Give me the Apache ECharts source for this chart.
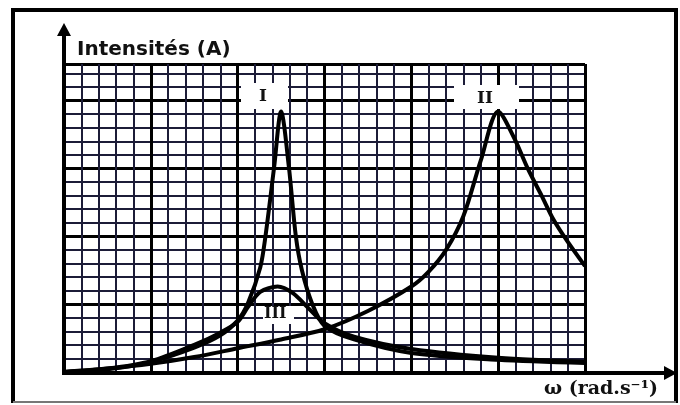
<!DOCTYPE html>
<html>
<head>
<meta charset="utf-8">
<script src="https://cdn.jsdelivr.net/npm/echarts@6/dist/echarts.min.js"></script>
<style>
html,body{margin:0;padding:0;background:#fff;}
#chart{width:680px;height:405px;}
</style>
</head>
<body>
<div id="chart"></div>
<script>
// ω in minor-division units (0..30), intensity in minor-division units (0..22.7)
const curveI = [[0,0],[2.5,0.2],[5,0.75],[7.5,1.8],[9,2.7],[10,3.8],[10.6,5.1],[11.3,7.7],[11.6,10],[12.1,15.1],[12.5,19.2],[12.95,15.1],[13.35,10],[13.7,7.5],[14.3,5.0],[15,3.4],[16.7,2.4],[20,1.4],[25,0.9],[30,0.66]];
const curveII = [[0,0],[2.5,0.25],[5,0.6],[7.5,1.1],[10,1.75],[12.5,2.4],[15,3.15],[17.5,4.5],[20,6.3],[21,7.4],[22,9.0],[23,11.5],[24,15.6],[25,19.2],[25.9,17.3],[26.7,15.0],[27.5,13.0],[28.2,11.2],[29,9.6],[30,7.8]];
const curveIII = [[0,0],[2.5,0.25],[5,0.8],[7.5,2.0],[9,2.9],[10,3.7],[10.6,4.8],[11.3,5.9],[12.3,6.3],[13.2,5.8],[14,4.8],[15,3.6],[16.7,2.6],[20,1.7],[25,1.05],[30,0.75]];
const xRange = [0, 30];
const yRange = [0, 22.7];
const minorStep = 1;
const majorStep = 5;
const yTitle = 'Intensités (A)';
const xTitle = 'ω (rad.s⁻¹)';
const curveNames = ['I', 'II', 'III'];

const chart = echarts.init(document.getElementById('chart'), null, {renderer:'canvas'});

function axis(min, max, step, color, width) {
  return {
    type: 'value', min: min, max: max, interval: step,
    axisLine: {show:false}, axisTick: {show:false}, axisLabel: {show:false},
    splitLine: {show:true, lineStyle: {color: color, width: width}}
  };
}

const lineSeries = (data) => ({
  type: 'line', data: data, symbol: 'none', smooth: 0.3,
  xAxisIndex: 0, yAxisIndex: 0, z: 5, silent: true,
  lineStyle: {color: '#000', width: 4}
});

chart.setOption({
  animation: false,
  backgroundColor: '#fff',
  grid: {left: 64, top: 64, width: 521, height: 308, containLabel: false, outerBoundsMode: 'none'},
  xAxis: [
    axis(xRange[0], xRange[1], minorStep, '#1c1c38', 2),
    axis(xRange[0], xRange[1], majorStep, '#000', 3)
  ],
  yAxis: [
    axis(yRange[0], yRange[1], minorStep, '#1c1c38', 2),
    axis(yRange[0], yRange[1], majorStep, '#000', 3)
  ],
  series: [lineSeries(curveI), lineSeries(curveII), lineSeries(curveIII)],
  graphic: [
    {type:'line', z:10, shape:{x1:11, y1:10, x2:678, y2:10}, style:{stroke:'#000', lineWidth:4}},
    {type:'line', z:10, shape:{x1:13, y1:8, x2:13, y2:403}, style:{stroke:'#000', lineWidth:4}},
    {type:'line', z:10, shape:{x1:676, y1:8, x2:676, y2:403}, style:{stroke:'#000', lineWidth:4}},
    {type:'line', z:10, shape:{x1:13, y1:402, x2:676, y2:402}, style:{stroke:'#777', lineWidth:2}},
    {type:'line', z:10, shape:{x1:64, y1:375, x2:64, y2:32}, style:{stroke:'#000', lineWidth:4}},
    {type:'polygon', z:10, shape:{points:[[57,36],[71,36],[64,23]]}, style:{fill:'#000'}},
    {type:'line', z:10, shape:{x1:62, y1:373, x2:668, y2:373}, style:{stroke:'#000', lineWidth:4}},
    {type:'polygon', z:10, shape:{points:[[664,366],[664,380],[677,373]]}, style:{fill:'#000'}},
    {type:'text', z:10, left:77, top:40, style:{text:yTitle, font:'bold 20px "DejaVu Sans"', fill:'#111'}},
    {type:'text', z:10, left:544, top:380, style:{text:xTitle, font:'bold 19px "DejaVu Serif"', fill:'#111'}},
    {type:'rect', z:3, shape:{x:241, y:83, width:47, height:26}, style:{fill:'#fff'}},
    {type:'text', z:4, left:259, top:88, style:{text:curveNames[0], font:'bold 17px "DejaVu Serif"', fill:'#111'}},
    {type:'rect', z:3, shape:{x:454, y:85, width:65, height:24}, style:{fill:'#fff'}},
    {type:'text', z:4, left:477, top:90, style:{text:curveNames[1], font:'bold 17px "DejaVu Serif"', fill:'#111'}},
    {type:'rect', z:3, shape:{x:263, y:306, width:31, height:18}, style:{fill:'#fff'}},
    {type:'text', z:4, left:264, top:306, style:{text:curveNames[2], font:'bold 16px "DejaVu Serif"', fill:'#111'}}
  ]
});
</script>
</body>
</html>
